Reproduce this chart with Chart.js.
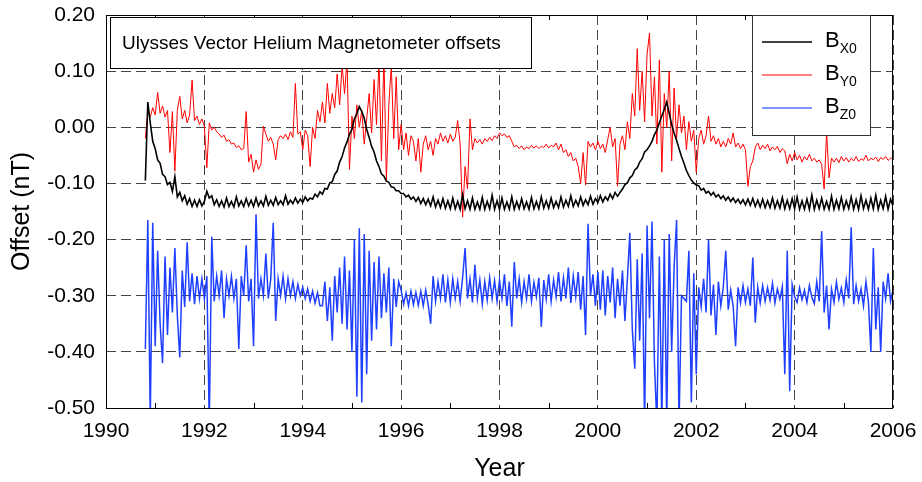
<!DOCTYPE html>
<html>
<head>
<meta charset="utf-8">
<script src="https://cdn.jsdelivr.net/npm/chart.js@4.4.0/dist/chart.umd.min.js"></script>
<style>
  body { margin: 0; background: #fff; }
  #wrap { width: 922px; height: 482px; }
</style>
</head>
<body>
<div id="wrap"><canvas id="chart" width="922" height="482"></canvas></div>
<script>
// samples every 0.05 yr from 1990.80 to 2006.00, values in milli-nT
const startYear = 1990.8;
const step = 0.05;

// B_X0 (black)
const bx0 = [
  -95, 45, 8, -25,
  -38, -58, -64, -84, -88, -102, -98, -114, -88, -124, -116, -131, -122, -137, -127, -141, -130, -141, -129, -140,
  -132, -114, -126, -122, -138, -129, -141, -131, -142, -126, -141, -132, -142, -124, -140, -131, -141, -127, -140, -130,
  -141, -126, -140, -131, -140, -123, -139, -130, -139, -125, -138, -131, -138, -122, -137, -130, -136, -126, -135, -128,
  -134, -124, -131, -126, -128, -119, -124, -115, -119, -109, -110, -99, -97, -84, -78, -62, -52, -37, -26, -12,
  -4, 15, 24, 37, 28, 16, -4, -18, -34, -44, -60, -70, -83, -87, -96, -98, -106, -107, -113, -113,
  -118, -118, -124, -121, -128, -124, -132, -125, -136, -127, -138, -128, -140, -124, -142, -130, -143, -127, -144, -131,
  -145, -126, -145, -132, -146, -120, -145, -131, -146, -126, -146, -133, -146, -125, -146, -132, -145, -121, -146, -131,
  -146, -126, -146, -133, -146, -124, -146, -132, -145, -127, -145, -133, -146, -125, -145, -132, -145, -124, -144, -131,
  -144, -126, -143, -132, -143, -124, -142, -130, -141, -122, -141, -130, -140, -124, -139, -129, -138, -123, -137, -127,
  -134, -122, -133, -124, -130, -119, -127, -116, -123, -116, -110, -102, -99, -90, -86, -76, -72, -62, -56, -44,
  -40, -33, -25, -13, -5, 8, 20, 32, 45, 25, 5, -10, -23, -38, -52, -64, -77, -86, -94, -99,
  -103, -104, -112, -109, -117, -114, -121, -116, -124, -120, -127, -122, -130, -124, -132, -126, -134, -128, -136, -129,
  -138, -128, -139, -127, -141, -130, -142, -128, -143, -131, -143, -126, -144, -131, -144, -125, -145, -130, -145, -127,
  -145, -124, -146, -131, -146, -128, -146, -121, -146, -130, -145, -126, -146, -132, -146, -123, -146, -130, -145, -125,
  -146, -131, -145, -124, -146, -129, -146, -122, -145, -130, -146, -126, -145, -121, -146, -130, -145, -123, -146, -128,
  -140
];

// B_Y0 (red)
const by0 = [
  -20, 30, 18, 35,
  22, 62, 25, 38, 18, 30, -45, 28, -78, 30, 55, 15, 30, 8, 22, 84, 12, 20, 5, 15,
  2, -72, 8, -5, 0, -8, -12, -18, -14, -25, -22, -30, -28, -36, -33, -40, -38, 28, -62, -48,
  -80, -58, -75, -66, 2, -12, -25, -18, -30, -58, -22, -15, -20, -12, -22, -8, -18, 78, -12, -8,
  -40, -5, -15, -70, 0, -20, 30, 10, 45, 8, 78, 25, 60, 35, 95, 40, 110, 60, 120, -75,
  20, -20, 40, 0, 30, -30, 15, 60, -10, 85, 5, 120, -60, 130, -95, 40, 110, -20, 90, -40,
  5, -40, -10, -50, -15, -25, -60, -20, -80, -30, -15, -40, -25, -50, -20, -30, -10, -25, -15, -28,
  -12, -25, -18, 12, -30, -160, -70, -110, 15, -40, -20, -28, -22, -30, -20, -25, -18, -24, -15, -20,
  -10, -15, -12, -18, -15, -25, -35, -32, -38, -33, -40, -35, -38, -32, -37, -33, -38, -34, -36, -30,
  -37, -32, -35, -28, -40, -30, -45, -40, -52, -45, -60, -55, -70, -100, -45, -103, -25, -35, -28, -40,
  -25, -38, -30, -45, -22, 0, -35, -20, -105, -30, -15, -40, 10, -20, 60, 20, 140, 30, 100, 10,
  130, 168, 20, 90, -30, 120, -80, 60, 0, 100, -60, 70, -20, 40, -10, 20, -40, 10, -25, -5,
  -80, -20, -5, -30, -15, 20, -25, -15, -30, -20, -35, -25, -35, -20, -30, -10, -35, -28, -38, -30,
  -40, -105, -70, -60, -35, -28, -40, -32, -38, -30, -42, -35, -40, -34, -45, -38, -42, -65, -48, -60,
  -45, -58, -50, -62, -52, -58, -48, -60, -55, -62, -58, -66, -110, -8, -90, -55, -62, -55, -63, -52,
  -60, -54, -62, -55, -60, -52, -61, -56, -59, -50, -60, -55, -58, -53, -61, -54, -57, -52, -59, -55,
  -55
];

// B_Z0 (blue)
const bz0 = [
  -395, -165, -520, -170,
  -390, -220, -350, -420, -230, -370, -250, -330, -215, -335, -410, -255, -320, -205, -310, -260, -315, -265, -305, -270,
  -305, -265, -530, -195, -310, -265, -300, -255, -340, -270, -300, -265, -305, -270, -395, -265, -300, -210, -310, -270,
  -390, -155, -305, -270, -300, -225, -305, -270, -170, -345, -270, -300, -265, -305, -270, -300, -275, -305, -280, -300,
  -285, -305, -288, -310, -292, -313, -295, -318, -318, -275, -345, -285, -380, -265, -330, -250, -350, -230, -360, -255,
  -400, -200, -480, -180, -490, -190, -440, -220, -380, -240, -360, -230, -340, -260, -330, -250, -390, -270, -320, -275,
  -290, -315, -295, -318, -292, -316, -294, -317, -292, -318, -290, -316, -350, -265, -310, -275, -305, -262, -312, -272,
  -312, -270, -305, -275, -310, -268, -215, -305, -270, -312, -245, -305, -272, -315, -275, -308, -268, -305, -273, -310,
  -272, -305, -262, -318, -275, -355, -240, -305, -270, -312, -275, -305, -262, -310, -276, -302, -268, -355, -272, -306,
  -262, -310, -272, -302, -258, -310, -268, -305, -250, -313, -265, -302, -258, -325, -265, -370, -172, -300, -262, -318,
  -258, -325, -255, -335, -265, -312, -250, -340, -270, -318, -255, -345, -270, -188, -360, -430, -235, -380, -225, -530,
  -175, -340, -168, -420, -530, -230, -530, -200, -530, -190, -400, -250, -165, -530, -300, -305, -310, -220, -490, -260,
  -440, -285, -320, -270, -330, -200, -335, -280, -370, -275, -318, -285, -220, -325, -290, -318, -390, -285, -313, -282,
  -312, -288, -318, -232, -348, -285, -313, -282, -310, -286, -308, -278, -313, -288, -306, -284, -440, -220, -470, -280,
  -302, -312, -286, -307, -290, -312, -282, -303, -314, -275, -310, -185, -330, -282, -360, -288, -312, -276, -306, -286,
  -312, -272, -305, -178, -315, -282, -310, -288, -318, -275, -310, -400, -215, -360, -285, -400, -275, -305, -260, -310,
  -290
];

const yTicks = [0.20, 0.10, 0.00, -0.10, -0.20, -0.30, -0.40, -0.50];
const xTicks = [1990, 1992, 1994, 1996, 1998, 2000, 2002, 2004, 2006];

const years = bx0.map((_, i) => +(startYear + i * step).toFixed(2));
const toPoints = arr => arr.map((v, i) => ({ x: years[i], y: v / 1000 }));

// frame, inward minor ticks, title box and legend drawn on top
const decorations = {
  id: 'decorations',
  afterDraw(chart) {
    const { ctx, chartArea: a, scales } = chart;
    ctx.save();
    ctx.strokeStyle = '#000';
    ctx.lineWidth = 1;
    ctx.setLineDash([]);
    ctx.strokeRect(a.left + 0.5, a.top + 0.5, a.right - a.left - 1, a.bottom - a.top);

    // minor ticks at odd years
    ctx.beginPath();
    for (let yr = 1991; yr < 2006; yr += 2) {
      const px = Math.round(scales.x.getPixelForValue(yr)) + 0.5;
      ctx.moveTo(px, a.bottom); ctx.lineTo(px, a.bottom - 5);
      ctx.moveTo(px, a.top); ctx.lineTo(px, a.top + 5);
    }
    ctx.stroke();

    // title box
    ctx.fillStyle = '#fff';
    ctx.fillRect(110.5, 17.5, 421, 51);
    ctx.strokeRect(110.5, 17.5, 421, 51);
    ctx.fillStyle = '#000';
    ctx.font = '19px "Liberation Sans", Arial, sans-serif';
    ctx.textBaseline = 'alphabetic';
    ctx.fillText('Ulysses Vector Helium Magnetometer offsets', 122, 49);

    // legend
    ctx.fillStyle = '#fff';
    ctx.fillRect(752.5, 15.5, 118, 120);
    ctx.strokeStyle = '#333';
    ctx.strokeRect(752.5, 15.5, 118, 120);
    const items = [
      { sub: 'X0', color: '#000', width: 1.5, y: 47 },
      { sub: 'Y0', color: '#ff0000', width: 1, y: 80 },
      { sub: 'Z0', color: 'rgba(40,80,255,0.6)', width: 2, y: 113 }
    ];
    items.forEach(it => {
      ctx.strokeStyle = it.color;
      ctx.lineWidth = it.width;
      ctx.beginPath();
      ctx.moveTo(762, it.y - 5); ctx.lineTo(812, it.y - 5);
      ctx.stroke();
      ctx.fillStyle = '#000';
      ctx.font = '22px "Liberation Sans", Arial, sans-serif';
      ctx.fillText('B', 825, it.y);
      const w = ctx.measureText('B').width;
      ctx.font = '14px "Liberation Sans", Arial, sans-serif';
      ctx.fillText(it.sub, 825 + w, it.y + 6);
    });
    ctx.restore();
  }
};

const font = { family: '"Liberation Sans", Arial, sans-serif' };

new Chart(document.getElementById('chart'), {
  type: 'line',
  data: {
    datasets: [
      { label: 'BX0', data: toPoints(bx0), borderColor: '#000', borderWidth: 1.6, order: 1 },
      { label: 'BY0', data: toPoints(by0), borderColor: '#ff0000', borderWidth: 1, order: 2 },
      { label: 'BZ0', data: toPoints(bz0), borderColor: '#2040ff', borderWidth: 1.5, order: 3 }
    ]
  },
  options: {
    responsive: false,
    animation: false,
    events: [],
    elements: { point: { radius: 0 }, line: { tension: 0 } },
    layout: { padding: { top: 15, right: 29, left: 0, bottom: 0 } },
    plugins: { legend: { display: false }, tooltip: { enabled: false } },
    scales: {
      x: {
        type: 'linear', min: 1990, max: 2006,
        afterFit: s => { s.height = 74; },
        afterBuildTicks: s => { s.ticks = xTicks.map(v => ({ value: v })); },
        ticks: { font: { ...font, size: 21, lineHeight: 1.8 }, color: '#000', padding: 4, callback: v => String(v) },
        grid: { color: '#444', lineWidth: 1, drawTicks: false },
        border: { display: false, dash: [10, 5] },
        title: { display: true, text: 'Year', color: '#000', font: { ...font, size: 25, lineHeight: 1 }, padding: 0 }
      },
      y: {
        min: -0.5, max: 0.2,
        afterFit: s => { s.width = 106; },
        afterBuildTicks: s => { s.ticks = yTicks.map(v => ({ value: v })); },
        ticks: { font: { ...font, size: 21, lineHeight: 0.3 }, color: '#000', padding: 11, callback: v => v.toFixed(2) },
        grid: { color: '#444', lineWidth: 1, drawTicks: false },
        border: { display: false, dash: [10, 5] },
        title: { display: true, text: 'Offset (nT)', color: '#000', font: { ...font, size: 25, lineHeight: 1 }, padding: { top: 10, bottom: 0 } }
      }
    }
  },
  plugins: [decorations]
});
</script>
</body>
</html>
